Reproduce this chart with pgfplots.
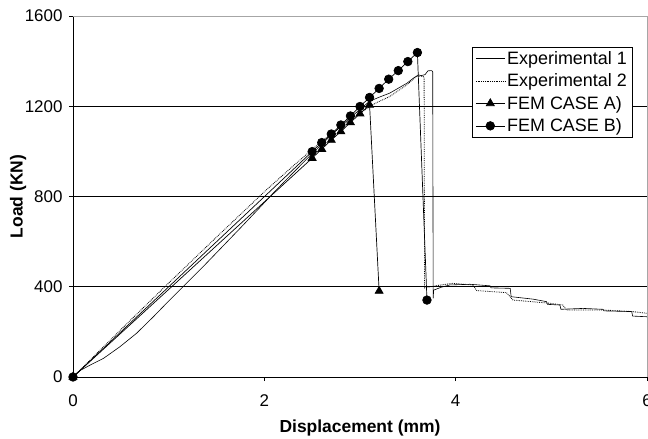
\documentclass[border=0pt]{standalone}
\usepackage{pgfplots}
\pgfplotsset{compat=1.18}
\usepackage{fontspec}
\setmainfont{Liberation Sans}

% Experimental and FEM load-displacement curves
\begin{document}
\begin{tikzpicture}
\useasboundingbox (-73bp,-62bp) rectangle (575bp,377bp);
\begin{axis}[
  at={(0,0)}, anchor=south west,
  scale only axis, width=574bp, height=361bp,
  xmin=0, xmax=6, ymin=0, ymax=1600,
  xtick={0,2,4,6}, ytick={0,400,800,1200,1600},
  axis lines=left, axis line style={-, black, line width=0.8pt},
  tick align=outside, major tick length=4bp,
  tick style={black, line width=0.6pt},
  ymajorgrids, grid style={black, line width=0.7pt},
  /pgf/number format/assume math mode=true,
  /pgf/number format/1000 sep={},
  tick label style={font=\fontsize{17}{19}\selectfont},
  xticklabel style={yshift=-10bp},
  yticklabel style={xshift=-3bp},
  xlabel={\bfseries Displacement (mm)},
  ylabel={\bfseries Load (KN)},
  label style={font=\fontsize{17.5}{20}\selectfont},
  xlabel style={at={(axis description cs:0.5,0)}, anchor=center, yshift=-50.5bp},
  ylabel style={at={(axis description cs:0,0.5)}, anchor=center, yshift=55bp},
  clip=false,
  legend style={at={(1,1)}, anchor=north east, xshift=-15bp, yshift=-31bp,
    draw=black, fill=white, font=\fontsize{18}{20}\selectfont,
    inner xsep=3bp, inner ysep=2bp, row sep=4bp,
    cells={anchor=west}},
  legend image code/.code={\draw[mark repeat=2,mark phase=2,#1] plot coordinates {(0bp,0bp) (14.5bp,0bp) (29bp,0bp)};},
  after end axis/.code={\draw[gray!70, line width=0.8pt] (rel axis cs:0,1) -- (rel axis cs:1,1) -- (rel axis cs:1,0);},
]
% Experimental 1
\addplot[black, line width=0.6pt] coordinates {
  (0,0) (0.08,30) (0.18,53) (0.32,83) (0.49,134) (0.665,194) (0.84,267)
  (1.01,341) (1.15,400) (1.36,489) (1.56,577) (1.76,665) (1.95,750)
  (2.1,818) (2.3,905) (2.5,990) (2.7,1072) (2.9,1150) (3.1,1222) (3.2,1240) (3.31,1258)
  (3.4,1280) (3.49,1302) (3.56,1325) (3.61,1339) (3.64,1336) (3.68,1340)
  (3.71,1357) (3.75,1358) (3.76,1352) (3.765,349) (3.77,385)
  (3.85,398) (3.94,408) (4.15,411) (4.36,404) (4.37,395) (4.57,393)
  (4.58,356) (4.81,345) (4.95,334) (4.96,322) (5.09,319) (5.10,300)
  (5.33,304) (5.54,300) (5.55,293) (5.84,290) (5.85,270) (6.0,267)};
\addlegendentry{Experimental 1}
% Experimental 2
\addplot[black, densely dotted, line width=0.8pt] coordinates {
  (0,0) (0.5,210) (0.96,400) (1.5,620) (2.02,829) (2.3,935) (2.6,1045)
  (2.9,1140) (3.14,1209) (3.31,1243) (3.49,1295) (3.59,1332) (3.65,1333)
  (3.67,1330) (3.675,395) (3.8,405) (3.97,415) (4.18,408) (4.22,383)
  (4.53,374) (4.60,341) (4.98,327) (5.12,319) (5.16,297) (5.54,297)
  (5.85,290) (6.0,282)};
\addlegendentry{Experimental 2}
% FEM case A
\addplot[black, line width=0.7pt, mark=triangle*, mark size=4.6bp] coordinates {
  (0,0) (2.5,970) (2.6,1010) (2.7,1050) (2.8,1088) (2.9,1128) (3.0,1167)
  (3.1,1206) (3.2,381)};
\addlegendentry{FEM CASE A)}
% FEM case B
\addplot[black, line width=0.7pt, mark=*, mark size=4.3bp] coordinates {
  (0,0) (2.5,999) (2.6,1039) (2.7,1077) (2.8,1117) (2.9,1157) (3.0,1199)
  (3.1,1239) (3.2,1279) (3.3,1320) (3.4,1358) (3.5,1398) (3.6,1438)
  (3.7,341)};
\addlegendentry{FEM CASE B)}
\end{axis}
\end{tikzpicture}
\end{document}
